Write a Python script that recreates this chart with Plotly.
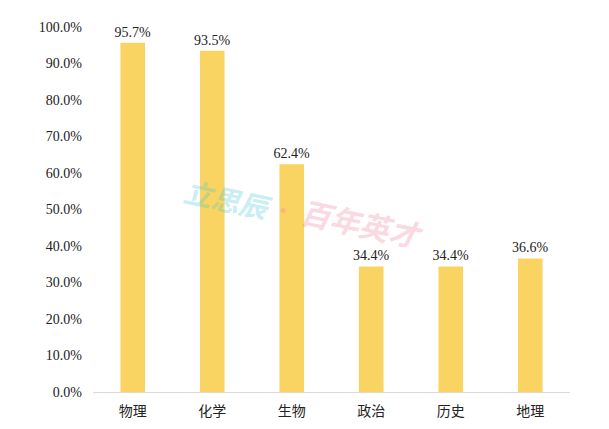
import plotly.graph_objects as go

categories = ["物理", "化学", "生物", "政治", "历史", "地理"]
values = [0.957, 0.935, 0.624, 0.344, 0.344, 0.366]
value_labels = ["95.7%", "93.5%", "62.4%", "34.4%", "34.4%", "36.6%"]
tick_vals = [i / 10 for i in range(11)]
tick_text = [f"{i*10}.0%" for i in range(11)]

SERIF = "Liberation Serif, Times New Roman, serif"

fig = go.Figure(go.Bar(
    x=categories, y=values,
    text=value_labels, textposition="outside", constraintext="none",
    textfont=dict(family=SERIF, size=14, color="#222"),
    marker=dict(color="#F9D462", line=dict(width=0)),
    cliponaxis=False,
))

wm = dict(xref="paper", yref="paper", showarrow=False, xanchor="center", yanchor="middle",
          opacity=0.28)
fig.add_annotation(x=0.283, y=0.53, text="<b><i>立思辰</i></b>", textangle=12,
                   font=dict(family="Noto Sans CJK SC", size=28, color="#3FC6D8"), **wm)
fig.add_annotation(x=0.398, y=0.50, text="<b>·</b>",
                   font=dict(family="Noto Sans CJK SC", size=20, color="#F07A9A"), **wm)
fig.add_annotation(x=0.564, y=0.463, text="<b><i>百年英才</i></b>", textangle=12,
                   font=dict(family="Noto Sans CJK SC", size=30, color="#F07A9A"), **wm)

fig.update_layout(
    width=609, height=429,
    margin=dict(l=85, r=47, t=19, b=45),
    plot_bgcolor="white", paper_bgcolor="white",
    bargap=0.69,
    showlegend=False,
    xaxis=dict(showline=True, linecolor="#D9D9D9", linewidth=1, ticks="",
               ticklabelstandoff=6,
               tickfont=dict(family="Noto Sans CJK SC", size=14, color="#222"),
               showgrid=False),
    yaxis=dict(range=[0, 1], tickvals=tick_vals, ticktext=tick_text,
               showgrid=False, zeroline=False, showline=False, ticks="",
               ticklabelstandoff=10,
               tickfont=dict(family=SERIF, size=14, color="#222")),
)

fig.write_html("out.html")
